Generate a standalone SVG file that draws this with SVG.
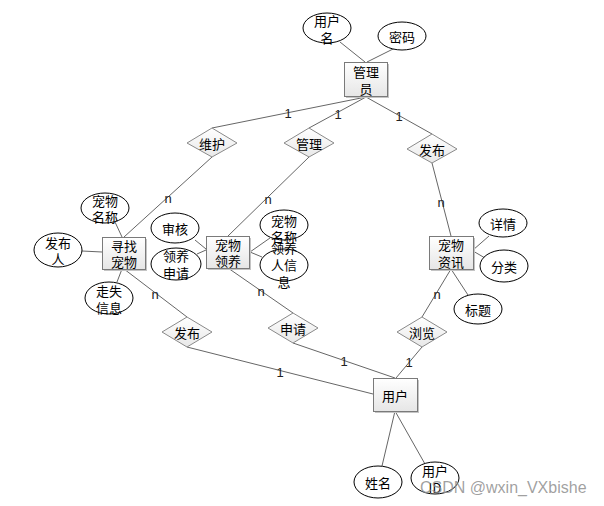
<svg xmlns="http://www.w3.org/2000/svg" width="604" height="506" viewBox="0 0 604 506">
<defs>
<linearGradient id="gEnt" x1="0" y1="0" x2="0" y2="1"><stop offset="0" stop-color="#ffffff"/><stop offset="1" stop-color="#e6e6e6"/></linearGradient>
<linearGradient id="gRel" x1="0" y1="0" x2="0" y2="1"><stop offset="0" stop-color="#ffffff"/><stop offset="1" stop-color="#e8e8e8"/></linearGradient>
<style>
.t{font-family:"Noto Sans CJK SC","Liberation Sans",sans-serif;font-size:13px;fill:#000;text-anchor:middle;dominant-baseline:central}
.lb{font-family:"Liberation Sans","Noto Sans",sans-serif;font-size:13px;fill:#222;text-anchor:middle;dominant-baseline:central}
.ent{fill:url(#gEnt);stroke:#7a7a7a;stroke-width:1}
.sh{fill:#c4c4c4}
.rel{fill:url(#gRel);stroke:#8a8a8a;stroke-width:1}
.att{fill:#fff;stroke:#000;stroke-width:1}
.ln{stroke:#666;stroke-width:1;fill:none}
.wm{font-family:"Liberation Sans",sans-serif;font-size:16px;fill:#8f8f8f;fill-opacity:0.85}
</style>
</defs>
<rect width="604" height="506" fill="#fff"/>
<g id="connectors">
<line class="ln" x1="340" y1="42" x2="365" y2="62"/>
<line class="ln" x1="395" y1="48" x2="367" y2="62"/>
<line class="ln" x1="366" y1="97" x2="212" y2="128"/>
<line class="ln" x1="366" y1="97" x2="309" y2="128"/>
<line class="ln" x1="366" y1="97" x2="432" y2="134"/>
<line class="ln" x1="212" y1="157" x2="124" y2="237"/>
<line class="ln" x1="309" y1="157" x2="228" y2="236"/>
<line class="ln" x1="432" y1="163" x2="451" y2="236"/>
<line class="ln" x1="124" y1="269" x2="187" y2="317"/>
<line class="ln" x1="228" y1="268" x2="293" y2="313"/>
<line class="ln" x1="451" y1="269" x2="422" y2="317"/>
<line class="ln" x1="187" y1="347" x2="373" y2="394"/>
<line class="ln" x1="293" y1="343" x2="395" y2="378"/>
<line class="ln" x1="422" y1="347" x2="396" y2="378"/>
<line class="ln" x1="395" y1="411" x2="382" y2="466"/>
<line class="ln" x1="395" y1="411" x2="425" y2="464"/>
<line class="ln" x1="115" y1="222" x2="122" y2="237"/>
<line class="ln" x1="82" y1="251" x2="102" y2="252"/>
<line class="ln" x1="117" y1="282" x2="122" y2="269"/>
<line class="ln" x1="195" y1="240" x2="206" y2="249"/>
<line class="ln" x1="197" y1="254" x2="206" y2="250"/>
<line class="ln" x1="270" y1="238" x2="250" y2="252"/>
<line class="ln" x1="262" y1="257" x2="250" y2="252"/>
<line class="ln" x1="489" y1="236" x2="473" y2="250"/>
<line class="ln" x1="485" y1="258" x2="473" y2="251"/>
<line class="ln" x1="451" y1="269" x2="468" y2="295"/>
<text class="lb" x="288" y="113">1</text>
<text class="lb" x="338" y="114">1</text>
<text class="lb" x="399" y="116">1</text>
<text class="lb" x="280" y="372">1</text>
<text class="lb" x="344" y="361">1</text>
<text class="lb" x="409" y="362">1</text>
<text class="lb" x="168" y="198">n</text>
<text class="lb" x="268" y="199">n</text>
<text class="lb" x="441" y="202">n</text>
<text class="lb" x="155" y="294">n</text>
<text class="lb" x="261" y="291">n</text>
<text class="lb" x="437" y="294">n</text>
</g>
<g id="e-admin"><rect class="sh" x="346" y="64" width="43" height="34"/><rect class="ent" x="344.5" y="62.5" width="43" height="34"/><text class="t" x="366" y="71">管理</text><text class="t" x="366" y="88">员</text></g>
<g id="e-find"><rect class="sh" x="104" y="239" width="43" height="32"/><rect class="ent" x="102.5" y="237.5" width="43" height="32"/><text class="t" x="124" y="245">寻找</text><text class="t" x="124" y="261">宠物</text></g>
<g id="e-adopt"><rect class="sh" x="208" y="238" width="43" height="32"/><rect class="ent" x="206.5" y="236.5" width="43" height="32"/><text class="t" x="228" y="244">宠物</text><text class="t" x="228" y="260">领养</text></g>
<g id="e-info"><rect class="sh" x="431" y="238" width="44" height="33"/><rect class="ent" x="429.5" y="236.5" width="44" height="33"/><text class="t" x="451" y="244">宠物</text><text class="t" x="451" y="261">资讯</text></g>
<g id="e-user"><rect class="sh" x="375" y="380" width="44" height="33"/><rect class="ent" x="373.5" y="378.5" width="44" height="33"/><text class="t" x="395" y="395">用户</text></g>
<g id="r-maintain"><polygon class="rel" points="212,128 237,143 212,157 187,143"/><text class="t" x="212" y="143">维护</text></g>
<g id="r-manage"><polygon class="rel" points="309,128 334,143 309,157 284,143"/><text class="t" x="309" y="143">管理</text></g>
<g id="r-publish1"><polygon class="rel" points="432,134 457,149 432,163 407,149"/><text class="t" x="432" y="149">发布</text></g>
<g id="r-publish2"><polygon class="rel" points="187,317 212,332 187,347 162,332"/><text class="t" x="187" y="332">发布</text></g>
<g id="r-apply"><polygon class="rel" points="293,313 318,328 293,343 268,328"/><text class="t" x="293" y="328">申请</text></g>
<g id="r-browse"><polygon class="rel" points="422,317 447,332 422,347 397,332"/><text class="t" x="422" y="332">浏览</text></g>
<g id="a-username"><ellipse class="att" cx="327" cy="28" rx="24" ry="15"/><text class="t" x="327" y="20">用户</text><text class="t" x="327" y="37">名</text></g>
<g id="a-password"><ellipse class="att" cx="402" cy="36" rx="24" ry="14"/><text class="t" x="402" y="36">密码</text></g>
<g id="a-petname1"><ellipse class="att" cx="105" cy="208" rx="24" ry="15"/><text class="t" x="105" y="200">宠物</text><text class="t" x="105" y="216">名称</text></g>
<g id="a-publisher"><ellipse class="att" cx="58" cy="250" rx="24" ry="17"/><text class="t" x="58" y="242">发布</text><text class="t" x="58" y="258">人</text></g>
<g id="a-lostinfo"><ellipse class="att" cx="109" cy="298" rx="24" ry="16"/><text class="t" x="109" y="290">走失</text><text class="t" x="109" y="307">信息</text></g>
<g id="a-review"><ellipse class="att" cx="175" cy="228" rx="24" ry="15"/><text class="t" x="175" y="228">审核</text></g>
<g id="a-adoptapply"><ellipse class="att" cx="176" cy="264" rx="25" ry="16"/><text class="t" x="176" y="255">领养</text><text class="t" x="176" y="272">申请</text></g>
<g id="a-petname2"><ellipse class="att" cx="284" cy="225" rx="24" ry="15"/><text class="t" x="284" y="220">宠物</text><text class="t" x="284" y="236">名称</text></g>
<g id="a-adopter"><ellipse class="att" cx="284" cy="265" rx="24" ry="16"/><text class="t" x="284" y="247">领养</text><text class="t" x="284" y="264">人信</text><text class="t" x="284" y="281">息</text></g>
<g id="a-detail"><ellipse class="att" cx="503" cy="223" rx="24" ry="14"/><text class="t" x="503" y="223">详情</text></g>
<g id="a-category"><ellipse class="att" cx="504" cy="266" rx="24" ry="16"/><text class="t" x="504" y="266">分类</text></g>
<g id="a-title"><ellipse class="att" cx="478" cy="309" rx="24" ry="15"/><text class="t" x="478" y="309">标题</text></g>
<g id="a-name"><ellipse class="att" cx="378" cy="482" rx="24" ry="16"/><text class="t" x="378" y="482">姓名</text></g>
<g id="a-userid"><ellipse class="att" cx="435" cy="478" rx="24" ry="16"/><text class="t" x="435" y="470">用户</text><text class="t" x="435" y="487">ID</text></g>
<text class="wm" x="420" y="493">CSDN @wxin_VXbishe</text>
</svg>
